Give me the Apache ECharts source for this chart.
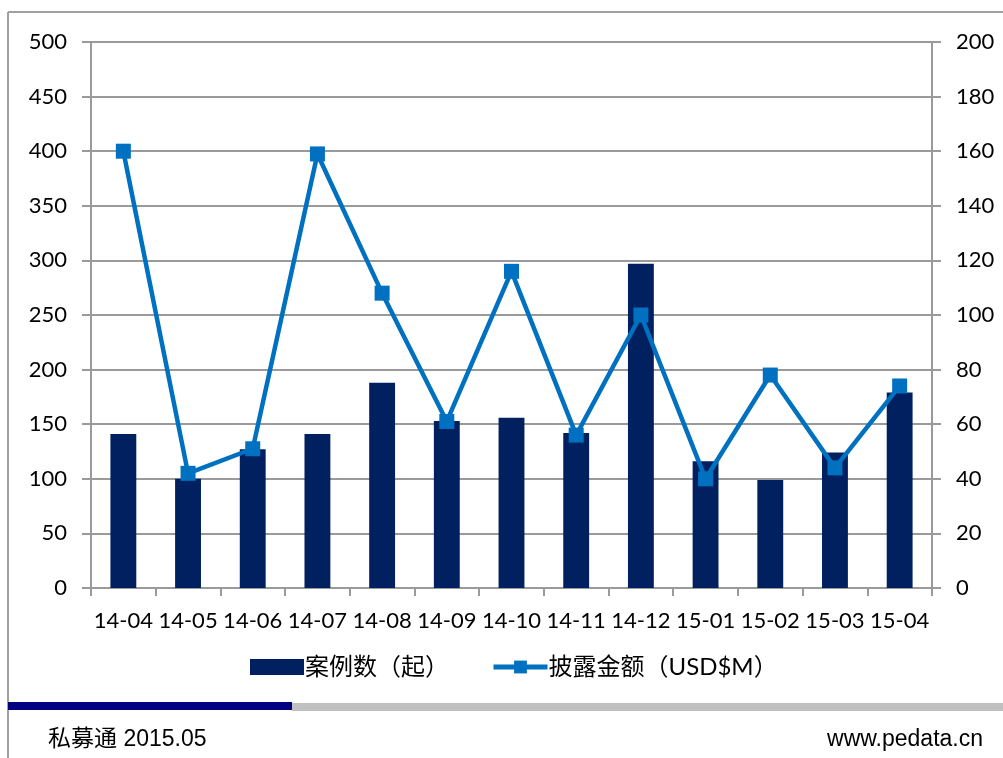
<!DOCTYPE html>
<html>
<head>
<meta charset="utf-8">
<script src="https://cdn.jsdelivr.net/npm/echarts@6/dist/echarts.min.js"></script>
<style>
html, body { margin: 0; padding: 0; background: #fff; }
#main { width: 1003px; height: 758px; }
</style>
</head>
<body>
<div id="main"></div>
<script>
// 月份
const months = ['14-04', '14-05', '14-06', '14-07', '14-08', '14-09', '14-10', '14-11', '14-12', '15-01', '15-02', '15-03', '15-04'];
// 案例数（起）
const caseCounts = [141, 100, 127, 141, 188, 153, 156, 142, 297, 116, 99, 124, 179];
// 披露金额（USD$M）
const amounts = [160, 42, 51, 159, 108, 61, 116, 56, 100, 40, 78, 44, 74];

const labelFont = 'Lato, "Noto Sans CJK SC", sans-serif';
const gridColor = '#9a9a9a';

const chart = echarts.init(document.getElementById('main'));
chart.clear();

const optionData = {
    animation: false,
    backgroundColor: '#fff',
    grid: { left: 91, right: 71, top: 42, bottom: 170, containLabel: false },
    legend: {
        top: 655,
        left: 250,
        padding: 0,
        itemGap: 42,
        textStyle: { fontSize: 24, color: '#000', fontFamily: labelFont, padding: [0, 0, 0, -4] },
        data: [
            { name: '案例数（起）', icon: 'rect', itemStyle: { color: '#002060' } },
            { name: '披露金额（USD$M）', lineStyle: { width: 5 } },
        ],
        itemWidth: 54,
        itemHeight: 16,
    },
    xAxis: {
        type: 'category',
        data: months,
        axisLine: { lineStyle: { color: gridColor, width: 2 } },
        axisTick: { show: true, length: 8, lineStyle: { color: gridColor, width: 2 } },
        axisLabel: { color: '#000', fontSize: 22, fontFamily: labelFont, margin: 22, interval: 0 },
    },
    yAxis: [
        {
            type: 'value',
            min: 0, max: 500, interval: 50,
            axisLine: { show: true, lineStyle: { color: gridColor, width: 2 } },
            axisTick: { show: true, length: 9, lineStyle: { color: gridColor, width: 2 } },
            splitLine: { lineStyle: { color: gridColor, width: 2 } },
            axisLabel: { color: '#000', fontSize: 22, fontFamily: labelFont, margin: 24 },
        },
        {
            type: 'value',
            min: 0, max: 200, interval: 20,
            position: 'right',
            axisLine: { show: true, lineStyle: { color: gridColor, width: 2 } },
            axisTick: { show: true, length: 9, lineStyle: { color: gridColor, width: 2 } },
            splitLine: { show: false },
            axisLabel: { color: '#000', fontSize: 22, fontFamily: labelFont, margin: 24 },
        },
    ],
    series: [
        {
            name: '案例数（起）',
            type: 'bar',
            data: caseCounts,
            barWidth: '40%',
            itemStyle: { color: '#002060' },
        },
        {
            name: '披露金额（USD$M）',
            type: 'line',
            yAxisIndex: 1,
            data: amounts,
            symbol: 'rect',
            symbolSize: 15,
            lineStyle: { color: '#0070C0', width: 4.5 },
            itemStyle: { color: '#0070C0' },
        },
    ],
    graphic: [
        // 外框
        { type: 'line', shape: { x1: 8, y1: 12, x2: 1003, y2: 12 }, style: { stroke: '#a0a0a0', lineWidth: 2 } },
        { type: 'line', shape: { x1: 8, y1: 12, x2: 8, y2: 758 }, style: { stroke: '#a0a0a0', lineWidth: 2 } },
        // 页脚
        { type: 'rect', shape: { x: 292, y: 703, width: 711, height: 8 }, style: { fill: '#c0c0c0' } },
        { type: 'rect', shape: { x: 8, y: 702, width: 284, height: 8 }, style: { fill: '#000080' } },
        { type: 'text', left: 48, top: 728, style: { text: '私募通 2015.05', fontSize: 23, fontFamily: '"Liberation Sans", "Noto Sans CJK SC", sans-serif', fill: '#000' } },
        { type: 'text', right: 20, top: 728, style: { text: 'www.pedata.cn', fontSize: 23, fontFamily: '"Liberation Sans", sans-serif', fill: '#000' } },
    ],
};

chart.setOption(optionData);
</script>
</body>
</html>
